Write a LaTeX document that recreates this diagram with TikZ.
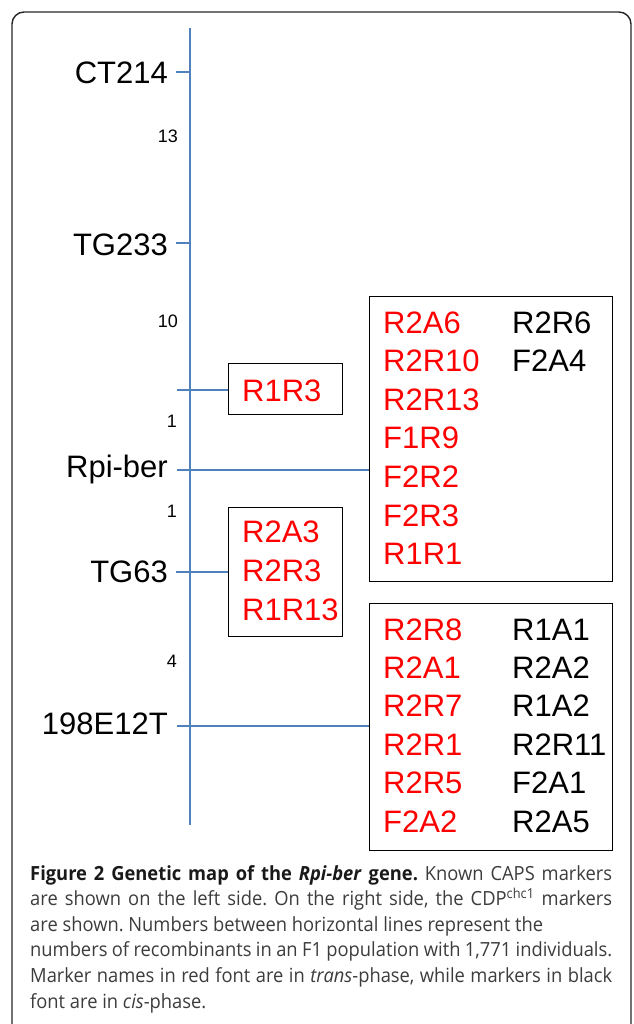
\documentclass[tikz,border=0pt]{standalone}
\usepackage{fontspec}
\setmainfont{Liberation Sans}
\newfontfamily\capfont[FakeStretch=0.94]{Open Sans}
\usetikzlibrary{positioning}
\frenchspacing

\definecolor{mapblue}{RGB}{79,129,189}
\definecolor{capgray}{RGB}{60,60,60}

\newcommand{\capline}[1]{\makebox[582pt][s]{\spaceskip=0.26em plus 0.3em minus 0.12em #1}}

\tikzset{
	frame/.style={draw=black!85, line width=1.4, rounded corners=12},
	mapline/.style={draw=mapblue, line width=1.3},
	locus/.style={font=\fontsize{31}{31}\selectfont, anchor=base east, inner sep=0},
	recomb/.style={font=\fontsize{18}{18}\selectfont, anchor=base east, inner sep=0},
	markbox/.style={draw, line width=1.3, inner sep=0, anchor=north west},
	transmark/.style={text=red, font=\fontsize{31}{31}\selectfont, anchor=base west, inner sep=0},
	cismark/.style={text=black, font=\fontsize{31}{31}\selectfont, anchor=base west, inner sep=0},
	caption/.style={text=capgray, font=\capfont\fontsize{19.5}{25.6}\selectfont, anchor=north west, inner sep=0, align=left}
}

\begin{document}
\begin{tikzpicture}[x=1pt,y=-1pt]
	\useasboundingbox (0,0) rectangle (633,1024);
	\draw[frame] (12,1060) -- (12,12) -- (631,12) -- (631,1060);

	% axis of the map
	\coordinate (axtop) at (190,28);
	\coordinate (axbot) at (190,825);
	\draw[mapline] (axtop) -- (axbot);

	% known CAPS markers
	\node[locus] (ct214) at (168,84) {CT214};
	\node[locus] (tg233) at (168,255) {TG233};
	\node[locus] (rpiber) at (168,477) {Rpi-ber};
	\node[locus] (tg63) at (168,582) {TG63};
	\node[locus] (e12t) at (168,734) {198E12T};
	\coordinate (tct214) at (176,72);
	\coordinate (ttg233) at (176,243);
	\coordinate (tr1r3) at (177,390);
	\coordinate (trpiber) at (177,470);
	\coordinate (ttg63) at (176,572);
	\coordinate (te12t) at (177,726);

	% recombinants
	\node[recomb] (d13) at (178,142.5) {13};
	\node[recomb] (d10) at (178,327.5) {10};
	\node[recomb] (d1a) at (177,427.5) {1};
	\node[recomb] (d1b) at (177,517.5) {1};
	\node[recomb] (d4) at (177,667.5) {4};

	% marker boxes
	\node[markbox, minimum width=114, minimum height=51] (boxr1r3) at (228,363) {};
	\node[markbox, minimum width=114, minimum height=129] (boxtg63) at (228,507) {};
	\node[markbox, minimum width=243, minimum height=285] (boxrpi) at (369,296) {};
	\node[markbox, minimum width=243, minimum height=247] (boxe12t) at (369,603) {};

	\node[transmark] (r1r3) at (242,401) {R1R3};
	\foreach \mk [count=\i from 0] in {R2A3,R2R3,R1R13}
		\node[transmark] (tg\i) at (242,542+39*\i) {\mk};
	\foreach \mk [count=\i from 0] in {R2A6,R2R10,R2R13,F1R9,F2R2,F2R3,R1R1}
		\node[transmark] (rt\i) at (383,333+38.6*\i) {\mk};
	\foreach \mk [count=\i from 0] in {R2R6,F2A4}
		\node[cismark] (rc\i) at (512,333+38.6*\i) {\mk};
	\foreach \mk [count=\i from 0] in {R2R8,R2A1,R2R7,R2R1,R2R5,F2A2}
		\node[transmark] (et\i) at (383,640+38.4*\i) {\mk};
	\foreach \mk [count=\i from 0] in {R1A1,R2A2,R1A2,R2R11,F2A1,R2A5}
		\node[cismark] (ec\i) at (512,640+38.4*\i) {\mk};

	\path[mapline]
		(tct214) edge (tct214 -| axtop)
		(ttg233) edge (ttg233 -| axtop)
		(tr1r3) edge (tr1r3 -| boxr1r3.west)
		(trpiber) edge (trpiber -| boxrpi.west)
		(ttg63) edge (ttg63 -| boxtg63.west)
		(te12t) edge (te12t -| boxe12t.west);

	% caption
	\node[caption] (cap) at (30,865) {\capline{{\bfseries\color{black!90}Figure 2 Genetic map of the \textit{Rpi-ber} gene.} Known CAPS markers}\\
		\capline{are shown on the left side. On the right side, the CDP\textsuperscript{chc1} markers}\\
		are shown. Numbers between horizontal lines represent the\\
		\capline{numbers of recombinants in an F1 population with 1,771 individuals.}\\
		\capline{Marker names in red font are in \textit{trans}-phase, while markers in black}\\
		font are in \textit{cis}-phase.};
\end{tikzpicture}
\end{document}
